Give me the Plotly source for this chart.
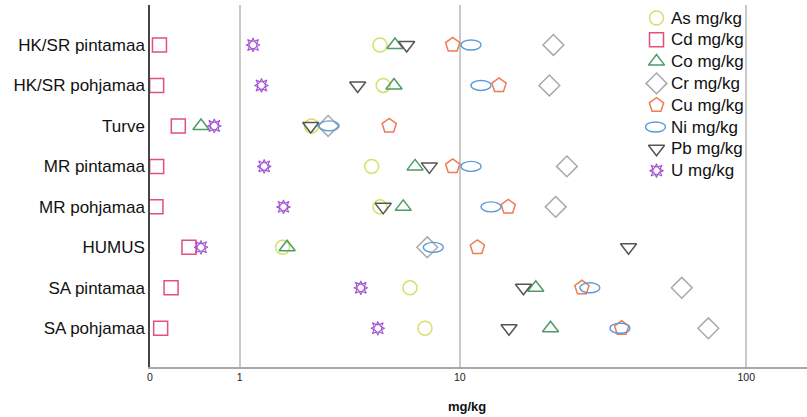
import numpy as np
import plotly.graph_objects as go

# Sample groups (rows, top to bottom)
categories = ["HK/SR pintamaa", "HK/SR pohjamaa", "Turve", "MR pintamaa",
              "MR pohjamaa", "HUMUS", "SA pintamaa", "SA pohjamaa"]

# Element concentrations, mg/kg, one value per row
As = [4.93, 5.08, 2.49, 4.56, 4.93, 1.79, 6.48, 7.40]
Cd = [0.076, 0.053, 0.245, 0.053, 0.047, 0.352, 0.177, 0.086]
Co = [5.66, 5.61, 0.484, 6.78, 6.10, 1.89, 18.8, 21.2]
Cr = [21.7, 21.0, 2.97, 24.2, 22.1, 7.55, 60.3, 74.3]
Cu = [9.41, 13.9, 5.37, 9.41, 15.0, 11.6, 27.3, 37.5]
Ni = [11.0, 11.96, 3.0, 11.0, 13.0, 7.96, 29.1, 37.0]
Pb = [6.29, 3.99, 2.47, 7.69, 5.08, 39.6, 17.0, 15.1]
U = [1.22, 1.37, 0.645, 1.42, 1.81, 0.484, 4.11, 4.83]

tick_values = [0, 1, 10, 100]
tick_labels = ["0", "1", "10", "100"]

FONT = "Liberation Sans, Arial, sans-serif"


def safe_log(v):
    """log10(x + 1) scale so that zero stays on the axis."""
    return np.log10(np.asarray(v, dtype=float) + 1.0)


rows = np.arange(len(categories))

# name, values, colour, marker symbols (None = ellipse shape), size, line width
series = [
    ("As mg/kg", As, "#d6df6a", ["circle-open"], 14, 1.5),
    ("Cd mg/kg", Cd, "#e2507c", ["square-open"], 14, 1.5),
    ("Co mg/kg", Co, "#4c9c66", ["triangle-up-open"], 14, 1.5),
    ("Cr mg/kg", Cr, "#a9a9a9", ["diamond-open"], 16, 1.5),
    ("Cu mg/kg", Cu, "#f07a52", ["pentagon-open"], 15, 1.5),
    ("Ni mg/kg", Ni, "#5b9bd8", None, 0, 1.4),
    ("Pb mg/kg", Pb, "#555555", ["triangle-down-open"], 14, 1.5),
    ("U mg/kg", U, "#a452d2", ["star-square-open", "star-diamond-open"], 10, 1.1),
]

fig = go.Figure()
shapes = []

for name, vals, color, symbols, size, lw in series:
    xs = safe_log(vals)
    if symbols is None:
        # Ni drawn as horizontal ellipses anchored on the data points
        for xv, yv in zip(xs, rows):
            shapes.append(dict(type="circle", xref="x", yref="y",
                               xsizemode="pixel", ysizemode="pixel",
                               xanchor=float(xv), yanchor=float(yv),
                               x0=-10, x1=10, y0=-5, y1=5,
                               line=dict(color=color, width=lw)))
        continue
    for sym in symbols:
        fig.add_trace(go.Scatter(
            x=xs, y=rows, mode="markers", name=name, showlegend=False,
            marker=dict(symbol=sym, size=size, color=color,
                        line=dict(color=color, width=lw)),
            hoverinfo="skip"))

# Legend drawn on its own pixel-scaled overlay axes
leg_x_marker = 656.5
leg_x_text = 668.5
leg_y0 = 18.0
leg_dy = 21.8
annotations = []
for i, (name, vals, color, symbols, size, lw) in enumerate(series):
    ly = leg_y0 + leg_dy * i
    if symbols is None:
        shapes.append(dict(type="circle", xref="x2", yref="y2",
                           xsizemode="pixel", ysizemode="pixel",
                           xanchor=leg_x_marker - 1, yanchor=ly,
                           x0=-10, x1=10, y0=-5, y1=5,
                           line=dict(color=color, width=lw)))
    else:
        for sym in symbols:
            fig.add_trace(go.Scatter(
                x=[leg_x_marker], y=[ly], xaxis="x2", yaxis="y2",
                mode="markers", showlegend=False, hoverinfo="skip",
                marker=dict(symbol=sym, size=size, color=color,
                            line=dict(color=color, width=lw))))
    annotations.append(dict(x=leg_x_text, y=ly, xref="x2", yref="y2",
                            text=name, showarrow=False, xanchor="left",
                            yanchor="middle",
                            font=dict(family=FONT, size=17, color="#111111")))

# Axis title
annotations.append(dict(x=(467 - 150) / 657, y=-0.11, xref="paper", yref="paper",
                        text="<b>mg/kg</b>", showarrow=False,
                        xanchor="center", yanchor="middle",
                        font=dict(family=FONT, size=13, color="#111111")))

x_max = 657 / 297.5
fig.update_layout(
    width=807, height=417,
    margin=dict(l=150, r=0, t=5, b=50),
    paper_bgcolor="white", plot_bgcolor="white",
    showlegend=False,
    shapes=shapes,
    annotations=annotations,
    xaxis=dict(range=[0, x_max], tickvals=safe_log(tick_values),
               ticktext=tick_labels, showgrid=True, gridcolor="#c9c9c9",
               gridwidth=1.5, zeroline=False, showline=True,
               linecolor="#a8a8a8", linewidth=1.5, ticks="",
               tickfont=dict(family=FONT, size=10.5, color="#222222")),
    yaxis=dict(range=[7.957, -0.988], tickvals=rows, ticktext=categories,
               showgrid=False, zeroline=False, showline=True,
               linecolor="#444444", linewidth=1.5, ticks="",
               tickfont=dict(family=FONT, size=17, color="#111111")),
    xaxis2=dict(domain=[(645 - 150) / 657, (744 - 150) / 657],
                range=[645, 744], visible=False, anchor="y2"),
    yaxis2=dict(domain=[(367 - 182) / 362, 1.0], range=[182, 5],
                visible=False, anchor="x2"),
)

fig.write_html("out.html")
